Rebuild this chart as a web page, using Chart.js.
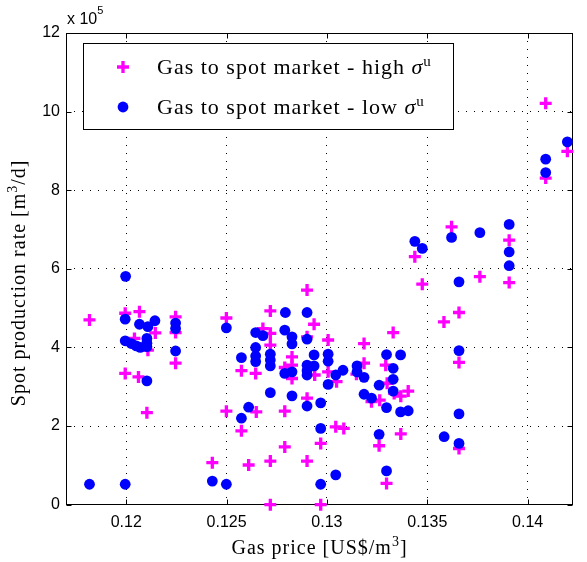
<!DOCTYPE html>
<html>
<head>
<meta charset="utf-8">
<script src="https://cdn.jsdelivr.net/npm/chart.js@4/dist/chart.umd.min.js"></script>
<style>
  html, body { margin: 0; padding: 0; background: #fff; }
  canvas { display: block; }
</style>
</head>
<body>
<canvas id="c" width="587" height="562"></canvas>
<script>
// Axis ticks
const priceTicks = [0.12, 0.125, 0.13, 0.135, 0.14];
const priceTickLabels = ['0.12', '0.125', '0.13', '0.135', '0.14'];
const rateTicks = [0, 2, 4, 6, 8, 10, 12];
const rateTickLabels = ['0', '2', '4', '6', '8', '10', '12'];

// Gas to spot market - high sigma^u  (price US$/m3, rate in 1e5 m3/d)
const highPrice = [0.11817, 0.11995, 0.12066, 0.12246, 0.12499, 0.12145, 0.12246, 0.12041, 0.12108, 0.12246,
  0.11995, 0.12061, 0.12103, 0.12429, 0.12499, 0.12901, 0.12718, 0.12936, 0.12681, 0.12718,
  0.12718, 0.13006, 0.12901, 0.12826, 0.12826, 0.12790, 0.12826, 0.12574, 0.12645, 0.12939,
  0.13006, 0.13048, 0.12901, 0.12648, 0.12790, 0.12574, 0.13044, 0.13084, 0.12969, 0.12790,
  0.12610, 0.12718, 0.12901, 0.12718, 0.12969, 0.13475, 0.13583, 0.13330, 0.13185, 0.13185,
  0.13293, 0.13147, 0.13300, 0.13335, 0.13368, 0.13405, 0.13222, 0.13263, 0.13368, 0.13260,
  0.13297, 0.13621, 0.13438, 0.13908, 0.13908, 0.13762, 0.13658, 0.13658, 0.13658, 0.14090,
  0.14198, 0.14090];
const highRate = [4.70, 4.87, 4.91, 4.78, 4.75, 4.37, 4.38, 4.23, 3.93, 3.60,
  3.34, 3.25, 2.34, 1.07, 2.38, 5.46, 4.93, 4.59, 4.48, 4.36,
  4.06, 4.19, 4.27, 3.76, 3.55, 3.49, 3.21, 3.41, 3.34, 3.30,
  3.38, 3.13, 2.71, 2.36, 2.38, 1.88, 1.98, 1.94, 1.56, 1.47,
  1.01, 1.11, 1.11, 0.00, 0.00, 5.61, 4.65, 4.38, 4.10, 3.60,
  3.55, 3.32, 3.09, 2.83, 2.76, 2.89, 2.62, 2.66, 1.80, 1.50,
  0.54, 7.07, 6.31, 6.73, 5.65, 5.80, 4.89, 3.62, 1.43, 10.21,
  8.99, 8.31];

// Gas to spot market - low sigma^u
const lowPrice = [0.11997, 0.11817, 0.11995, 0.12429, 0.12499, 0.11995, 0.12066, 0.12108, 0.12143, 0.12246,
  0.12246, 0.12499, 0.11995, 0.12025, 0.12050, 0.12070, 0.12103, 0.12103, 0.12103, 0.12246,
  0.12103, 0.12793, 0.12901, 0.12645, 0.12681, 0.12790, 0.12826, 0.12826, 0.12901, 0.12645,
  0.12645, 0.12645, 0.12718, 0.12718, 0.12718, 0.12574, 0.12936, 0.13006, 0.13006, 0.12901,
  0.12936, 0.12901, 0.12790, 0.12826, 0.12901, 0.13044, 0.13080, 0.13006, 0.12718, 0.12826,
  0.12901, 0.12969, 0.12610, 0.12574, 0.12969, 0.12969, 0.13044, 0.13297, 0.13367, 0.13330,
  0.13330, 0.13330, 0.13150, 0.13150, 0.13185, 0.13260, 0.13185, 0.13222, 0.13297, 0.13367,
  0.13405, 0.13260, 0.13584, 0.13297, 0.13908, 0.13762, 0.13621, 0.13438, 0.13475, 0.13908,
  0.13908, 0.13658, 0.13658, 0.13658, 0.13658, 0.14198, 0.14090, 0.14090];
const lowRate = [5.81, 0.52, 0.52, 0.60, 0.52, 4.72, 4.59, 4.53, 4.68, 4.62,
  4.48, 4.50, 4.17, 4.10, 4.04, 4.00, 4.02, 4.23, 4.11, 3.91,
  3.15, 4.89, 4.89, 4.38, 4.30, 4.44, 4.27, 4.09, 4.21, 4.00,
  3.78, 3.64, 3.83, 3.68, 3.53, 3.74, 3.81, 3.83, 3.65, 3.55,
  3.53, 3.41, 3.34, 3.38, 3.30, 3.30, 3.42, 3.06, 2.85, 2.77,
  2.51, 2.59, 2.48, 2.20, 1.94, 0.52, 0.76, 3.82, 3.81, 3.47,
  3.19, 2.89, 3.53, 3.38, 3.24, 3.04, 2.81, 2.71, 2.47, 2.36,
  2.39, 1.79, 1.73, 0.86, 7.13, 6.92, 6.80, 6.70, 6.52, 6.43,
  6.08, 5.67, 3.92, 2.31, 1.56, 9.23, 8.79, 8.45];

const seriesNames = ['Gas to spot market - high', 'Gas to spot market - low'];

const SERIF = '"Liberation Serif", "Times New Roman", serif';
const SANS = '"Liberation Sans", Arial, Helvetica, sans-serif';

const toPoints = (xs, ys) => xs.map((x, i) => ({ x: x, y: ys[i] }));

// Draws a run of text pieces, some as superscripts, returning total width
function drawRuns(ctx, runs, x, y, measureOnly) {
  let cx = x;
  runs.forEach(r => {
    ctx.font = r.font;
    const w = ctx.measureText(r.text).width;
    if (!measureOnly) ctx.fillText(r.text, cx, y - (r.rise || 0));
    cx += w;
  });
  return cx - x;
}

// Axes box with inward tick marks on all four sides
const frame = {
  id: 'frame',
  beforeDatasetsDraw(chart) {
    const { ctx, chartArea: a, scales: { x, y } } = chart;
    ctx.save();
    ctx.strokeStyle = '#000';
    ctx.lineWidth = 1;
    ctx.setLineDash([]);
    const L = Math.round(a.left) + 0.5, R = Math.round(a.right) - 0.5;
    const T = Math.round(a.top) + 0.5, B = Math.round(a.bottom) - 0.5;
    ctx.strokeRect(L, T, R - L, B - T);
    ctx.beginPath();
    x.ticks.forEach(t => {
      const px = Math.round(x.getPixelForValue(t.value)) + 0.5;
      ctx.moveTo(px, B); ctx.lineTo(px, B - 5);
      ctx.moveTo(px, T); ctx.lineTo(px, T + 5);
    });
    y.ticks.forEach(t => {
      const py = Math.round(y.getPixelForValue(t.value)) + 0.5;
      ctx.moveTo(L, py); ctx.lineTo(L + 5, py);
      ctx.moveTo(R, py); ctx.lineTo(R - 5, py);
    });
    ctx.stroke();
    ctx.restore();
  }
};

// Boxed key in the upper-left corner of the plot area
const keyBox = {
  id: 'keyBox',
  afterDatasetsDraw(chart) {
    const { ctx, chartArea: a } = chart;
    const bx = Math.round(a.left + 17), by = Math.round(a.top + 10), bw = 370, bh = 86;
    ctx.save();
    ctx.fillStyle = '#fff';
    ctx.fillRect(bx, by, bw, bh);
    ctx.strokeStyle = '#000';
    ctx.lineWidth = 1;
    ctx.strokeRect(bx + 0.5, by + 0.5, bw, bh);
    chart.data.datasets.forEach((ds, i) => {
      const cy = by + 24 + i * 40;
      ctx.fillStyle = ds.backgroundColor;
      ctx.strokeStyle = ds.borderColor;
      ctx.lineWidth = ds.pointBorderWidth;
      Chart.helpers.drawPoint(ctx, {
        pointStyle: ds.pointStyle, radius: ds.pointRadius,
        borderWidth: ds.pointBorderWidth, rotation: 0
      }, bx + 40, cy);
      ctx.fillStyle = '#000';
      ctx.textBaseline = 'alphabetic';
      ctx.textAlign = 'left';
      ctx.letterSpacing = '1px';
      drawRuns(ctx, [
        { text: seriesNames[i] + ' ', font: '22px ' + SERIF },
        { text: '\u03C3', font: 'italic 22px ' + SERIF },
        { text: 'u', font: '15px ' + SERIF, rise: 8 }
      ], bx + 74, cy + 7);
    });
    ctx.restore();
  }
};

// Axis titles and the exponent note above the y axis
const captions = {
  id: 'captions',
  afterDraw(chart) {
    const { ctx, chartArea: a } = chart;
    ctx.save();
    ctx.fillStyle = '#000';
    ctx.textBaseline = 'alphabetic';
    ctx.textAlign = 'left';
    ctx.letterSpacing = '1px';

    const xRuns = [
      { text: 'Gas price [US$/m', font: '20px ' + SERIF },
      { text: '3', font: '14px ' + SERIF, rise: 8 },
      { text: ']', font: '20px ' + SERIF }
    ];
    const xw = drawRuns(ctx, xRuns, 0, 0, true);
    drawRuns(ctx, xRuns, (a.left + a.right) / 2 - xw / 2, 554);

    const yRuns = [
      { text: 'Spot production rate [m', font: '20px ' + SERIF },
      { text: '3', font: '14px ' + SERIF, rise: 8 },
      { text: '/d]', font: '20px ' + SERIF }
    ];
    const yw = drawRuns(ctx, yRuns, 0, 0, true);
    ctx.save();
    ctx.translate(25, (a.top + a.bottom) / 2 + 14);
    ctx.rotate(-Math.PI / 2);
    drawRuns(ctx, yRuns, -yw / 2, 0);
    ctx.restore();

    ctx.letterSpacing = '0px';
    drawRuns(ctx, [
      { text: 'x 10', font: '16px ' + SANS },
      { text: '5', font: '11px ' + SANS, rise: 10 }
    ], a.left + 1, 24);
    ctx.restore();
  }
};

new Chart(document.getElementById('c'), {
  type: 'scatter',
  data: {
    datasets: [
      {
        label: seriesNames[0],
        data: toPoints(highPrice, highRate),
        pointStyle: 'cross',
        pointRadius: 6,
        pointBorderWidth: 3.3,
        borderColor: '#ff00ff',
        backgroundColor: '#ff00ff',
        order: 1,
        clip: false
      },
      {
        label: seriesNames[1],
        data: toPoints(lowPrice, lowRate),
        pointStyle: 'circle',
        pointRadius: 5.4,
        pointBorderWidth: 0,
        borderColor: '#0000ff',
        backgroundColor: '#0000ff',
        order: 0,
        clip: false
      }
    ]
  },
  options: {
    responsive: false,
    animation: false,
    devicePixelRatio: 1,
    events: [],
    layout: { padding: { top: 33, right: 14, left: 0, bottom: 0 } },
    plugins: { legend: { display: false }, tooltip: { enabled: false } },
    scales: {
      x: {
        type: 'linear',
        min: 0.117,
        max: 0.14226,
        afterBuildTicks: s => { s.ticks = priceTicks.map(v => ({ value: v })); },
        afterFit: s => { s.height = 57.3; },
        grid: { color: '#000', lineWidth: 1, drawTicks: false },
        border: { display: false, dash: [1, 7] },
        ticks: {
          padding: 8,
          color: '#000',
          maxRotation: 0,
          font: { family: SANS, size: 16 },
          callback: (v, i) => priceTickLabels[i]
        }
      },
      y: {
        type: 'linear',
        min: 0,
        max: 12,
        afterBuildTicks: s => { s.ticks = rateTicks.map(v => ({ value: v })); },
        afterFit: s => { s.width = 66; },
        grid: { color: '#000', lineWidth: 1, drawTicks: false },
        border: { display: false, dash: [1, 7] },
        ticks: {
          padding: 6,
          color: '#000',
          font: { family: SANS, size: 16 },
          callback: (v, i) => rateTickLabels[i]
        }
      }
    }
  },
  plugins: [frame, keyBox, captions]
});
</script>
</body>
</html>
